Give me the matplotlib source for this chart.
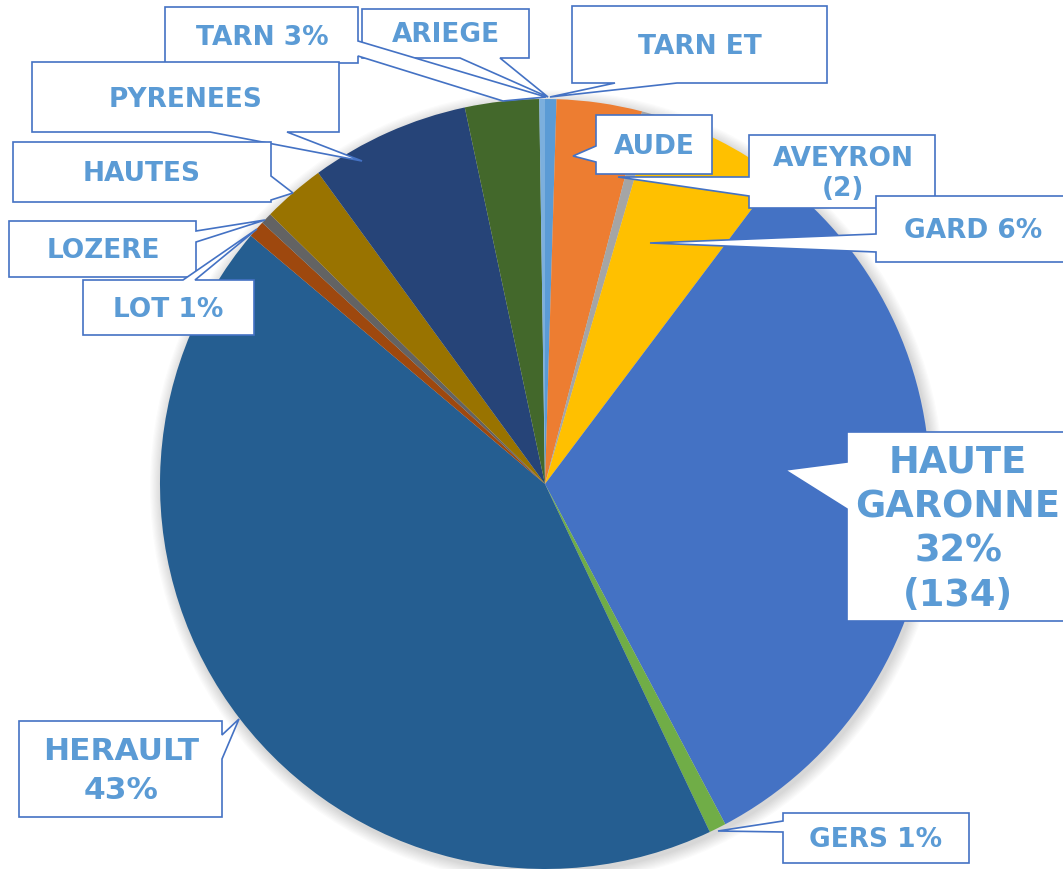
import matplotlib
matplotlib.use("Agg")
import matplotlib.pyplot as plt
from matplotlib.patches import Polygon, Circle

# ---- data (clockwise from 12 o'clock) ----
departments = ["ARIEGE", "AUDE", "AVEYRON", "GARD", "HAUTE GARONNE", "GERS",
               "HERAULT", "LOT", "LOZERE", "HAUTES PYRENEES",
               "PYRENEES ORIENTALES", "TARN", "TARN ET GARONNE"]
counts = [2, 15, 2, 24, 134, 3, 181, 3, 2, 11, 28, 13, 1]
colors = ["#5B9BD5", "#ED7D31", "#A5A5A5", "#FFC000", "#4472C4", "#70AD47",
          "#255E91", "#9E480E", "#636363", "#997300", "#264478", "#43682B",
          "#7CAFDD"]
label_texts = ["ARIEGE", "AUDE", "AVEYRON\n(2)", "GARD 6%",
               "HAUTE\nGARONNE\n32%\n(134)", "GERS 1%", "HERAULT\n43%",
               "LOT 1%", "LOZERE", "HAUTES", "PYRENEES", "TARN 3%", "TARN ET"]

# ---- layout (pixel coordinates, y down) ----
W, H = 1063, 870
CX, CY, R = 545, 485, 385
TEXT_COLOR = "#5B9BD5"
EDGE_COLOR = "#4472C4"

# box (x0, y0, x1, y1), wedge side, base a, base b, tip points, text pos, fontsize, linespacing
callouts = {
    "ARIEGE": ((362, 10, 529, 59), "bottom", 460, 500, [(548, 98)], None, 19, 1.1),
    "AUDE": ((596, 116, 712, 175), "left", 147, 163, [(573, 157)], (654, 147), 19, 1.1),
    "AVEYRON": ((749, 136, 935, 209), "left", 178, 197, [(618, 178)], (843, 174), 19, 1.15),
    "GARD": ((876, 197, 1075, 263), "left", 235, 253, [(650, 244)], (973, 231), 19, 1.1),
    "HAUTE GARONNE": ((847, 433, 1080, 622), "left", 463, 510, [(785, 471)], (958, 529), 26.5, 1.26),
    "GERS": ((783, 814, 969, 864), "left", 822, 833, [(718, 832)], (876, 840), 19, 1.1),
    "HERAULT": ((19, 722, 222, 818), "right", 736, 760, [(239, 720)], (121, 771), 22.5, 1.45),
    "LOT": ((83, 281, 254, 336), "top", 183, 195, [(257, 230)], (168, 310), 19, 1.1),
    "LOZERE": ((9, 222, 196, 278), "right", 232, 243, [(265, 221)], (103, 251), 19, 1.1),
    "HAUTES PYRENEES": ((13, 143, 271, 203), "right", 177, 201, [(293, 194)], (142, 174), 19, 1.1),
    "PYRENEES ORIENTALES": ((32, 63, 339, 133), "bottom", 210, 287, [(362, 162)], (186, 100), 19, 1.1),
    "TARN": ((165, 8, 358, 64), "right", 42, 57, [(546, 98), (503, 102)], (262, 38), 19, 1.1),
    "TARN ET GARONNE": ((572, 7, 827, 84), "bottom", 615, 677, [(550, 98)], (700, 47), 19, 1.1),
}
draw_order = ["TARN ET GARONNE", "ARIEGE", "TARN", "PYRENEES ORIENTALES",
              "HAUTES PYRENEES", "LOZERE", "LOT", "AUDE", "AVEYRON", "GARD",
              "HAUTE GARONNE", "HERAULT", "GERS"]


def callout_polygon(box, side, a, b, tips):
    x0, y0, x1, y1 = box
    if side == "top":
        pts = [(x0, y0), (a, y0), *tips, (b, y0), (x1, y0), (x1, y1), (x0, y1)]
    elif side == "right":
        pts = [(x0, y0), (x1, y0), (x1, a), *tips, (x1, b), (x1, y1), (x0, y1)]
    elif side == "bottom":
        pts = [(x0, y0), (x1, y0), (x1, y1), (b, y1), *tips, (a, y1), (x0, y1)]
    else:  # left
        pts = [(x0, y0), (x1, y0), (x1, y1), (x0, y1), (x0, b), *tips, (x0, a)]
    return pts


plt.rcParams["font.family"] = ["DejaVu Sans"]
fig = plt.figure(figsize=(W / 100, H / 100), dpi=100)
ax = fig.add_axes([0, 0, 1, 1])

# soft shadow under the pie
for i in range(10, 0, -1):
    ax.add_patch(Circle((CX + 2, CY + 3), R + i * 1.2, facecolor="black",
                        edgecolor="none", alpha=0.016, zorder=0))

ax.pie(counts, colors=colors, startangle=-90, counterclock=True,
       center=(CX, CY), radius=R, wedgeprops=dict(linewidth=0, zorder=1))

lab_map = dict(zip(departments, label_texts))
for z, name in enumerate(draw_order):
    box, side, a, b, tips, tpos, fs, ls = callouts[name]
    pts = callout_polygon(box, side, a, b, tips)
    ax.add_patch(Polygon(pts, closed=True, facecolor="white",
                         edgecolor=EDGE_COLOR, linewidth=1.2, joinstyle="miter",
                         zorder=3 + z * 0.01))
    if tpos is None:
        tpos = ((box[0] + box[2]) / 2, (box[1] + box[3]) / 2)
    ax.text(tpos[0], tpos[1], lab_map[name], ha="center", va="center",
            color=TEXT_COLOR, fontsize=fs, fontweight="bold",
            linespacing=ls, zorder=3 + z * 0.01 + 0.005)

ax.set_xlim(0, W)
ax.set_ylim(H, 0)
ax.set_aspect("equal")
ax.axis("off")
fig.savefig("out.png", dpi=100, facecolor="white")
